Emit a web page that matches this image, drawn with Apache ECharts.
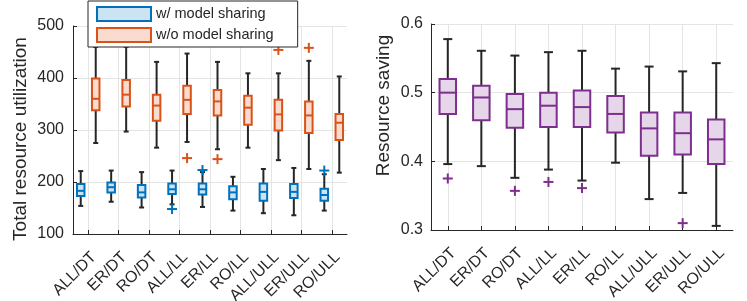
<!DOCTYPE html>
<html>
<head>
<meta charset="utf-8">
<script src="https://cdn.jsdelivr.net/npm/echarts@6/dist/echarts.min.js"></script>
<style>
html,body{margin:0;padding:0;background:#fff;}
#main{width:747px;height:301px;}
</style>
</head>
<body>
<div id="main"></div>
<script>
// ---------- data ----------
var categories = ['ALL/DT','ER/DT','RO/DT','ALL/LL','ER/LL','RO/LL','ALL/ULL','ER/ULL','RO/ULL'];
var utilTicks = [100, 200, 300, 400, 500];
var savingTicks = [0.3, 0.4, 0.5, 0.6];

// [min, q1, median, q3, max]
var withSharing = [
  [154, 173, 183, 196, 221],
  [162, 180, 190, 199, 222],
  [151, 170, 180, 194, 219],
  [157, 177, 186, 197, 222],
  [152, 176, 186, 197, 219],
  [145, 167, 180, 192, 210],
  [140, 164, 181, 197, 225],
  [136, 169, 181, 196, 227],
  [145, 164, 175, 187, 215]
];
var withoutSharing = [
  [275, 338, 360, 399, 460],
  [297, 345, 368, 396, 460],
  [266, 318, 347, 368, 431],
  [277, 331, 358, 385, 447],
  [263, 328, 355, 377, 431],
  [266, 310, 343, 366, 409],
  [242, 299, 330, 358, 409],
  [225, 294, 328, 355, 433],
  [218, 281, 314, 331, 403]
];
var saving = [
  [0.396, 0.469, 0.500, 0.520, 0.578],
  [0.393, 0.460, 0.493, 0.510, 0.561],
  [0.376, 0.449, 0.476, 0.498, 0.554],
  [0.388, 0.450, 0.481, 0.500, 0.559],
  [0.372, 0.450, 0.479, 0.503, 0.561],
  [0.398, 0.442, 0.469, 0.495, 0.535],
  [0.345, 0.408, 0.448, 0.471, 0.538],
  [0.354, 0.410, 0.441, 0.471, 0.531],
  [0.306, 0.396, 0.432, 0.461, 0.543]
];
// outliers: [category index, value]
var withOutliers = [[3, 148], [4, 223], [8, 222]];
var withoutOutliers = [[3, 246], [4, 244], [6, 454], [7, 458]];
var savingOutliers = [[0, 0.375], [2, 0.357], [3, 0.370], [4, 0.361], [7, 0.310]];

// ---------- style ----------
var TXT = '#262626';
var GRIDC = '#e4e4e4';
var FONT = '"Liberation Sans", Arial, Helvetica, sans-serif';
var BLUE = '#0072BD', BLUE_F = '#cce3f3';
var ORANGE = '#D95319', ORANGE_F = '#f9dccf';
var PURPLE = '#7E2F8E', PURPLE_F = '#e6d6e9';

function boxRender(offset, boxW, capW, stroke, fill) {
  return function (params, api) {
    var c = api.value(0);
    var cx = api.coord([c, api.value(3)])[0] + offset;
    function y(k) { return api.coord([c, api.value(k)])[1]; }
    var ymin = y(1), yq1 = y(2), ymed = y(3), yq3 = y(4), ymax = y(5);
    var ws = {stroke: TXT, lineWidth: 2};
    return {
      type: 'group',
      children: [
        {type: 'line', shape: {x1: cx, y1: ymax, x2: cx, y2: yq3}, style: ws},
        {type: 'line', shape: {x1: cx, y1: yq1, x2: cx, y2: ymin}, style: ws},
        {type: 'line', shape: {x1: cx - capW / 2, y1: ymax, x2: cx + capW / 2, y2: ymax}, style: ws},
        {type: 'line', shape: {x1: cx - capW / 2, y1: ymin, x2: cx + capW / 2, y2: ymin}, style: ws},
        {type: 'rect', shape: {x: cx - boxW / 2, y: yq3, width: boxW, height: yq1 - yq3},
          style: {fill: fill, stroke: stroke, lineWidth: 2}},
        {type: 'line', shape: {x1: cx - boxW / 2, y1: ymed, x2: cx + boxW / 2, y2: ymed},
          style: {stroke: stroke, lineWidth: 2}}
      ]
    };
  };
}
function plusRender(offset, size, color) {
  return function (params, api) {
    var p = api.coord([api.value(0), api.value(1)]);
    var cx = p[0] + offset, cy = p[1], h = size / 2;
    var st = {stroke: color, lineWidth: 2};
    return {
      type: 'group',
      children: [
        {type: 'line', shape: {x1: cx - h, y1: cy, x2: cx + h, y2: cy}, style: st},
        {type: 'line', shape: {x1: cx, y1: cy - h, x2: cx, y2: cy + h}, style: st}
      ]
    };
  };
}
function boxData(stats) {
  return stats.map(function (s, i) { return [i].concat(s); });
}
function xAxisCfg(gridIndex) {
  return {
    type: 'category', gridIndex: gridIndex, data: categories, boundaryGap: true,
    axisLine: {show: true, lineStyle: {color: TXT, width: 1}},
    axisTick: {show: true, inside: true, alignWithLabel: true, length: 4, lineStyle: {color: TXT}},
    axisLabel: {rotate: 45, fontSize: 16, color: TXT, fontFamily: FONT, margin: 15, interval: 0,
      align: 'right', verticalAlign: 'top'},
    splitLine: {show: true, alignWithLabel: true, lineStyle: {color: GRIDC, width: 1}}
  };
}

var chart = echarts.init(document.getElementById('main'), null, {renderer: 'canvas'});
chart.setOption({
  animation: false,
  backgroundColor: '#fff',
  textStyle: {fontFamily: FONT},
  grid: [
    {left: 73, right: 400, top: 26, bottom: 67, containLabel: false, outerBoundsMode: 'none'},
    {left: 431, right: 14, top: 24, bottom: 71, containLabel: false, outerBoundsMode: 'none'}
  ],
  legend: {
    orient: 'vertical', left: 88, top: 1,
    padding: [5, 24, 4, 8], itemGap: 5, itemWidth: 54, itemHeight: 14,
    borderColor: TXT, borderWidth: 1, backgroundColor: '#fff',
    textStyle: {fontSize: 14.5, color: TXT, fontFamily: FONT},
    icon: 'rect',
    data: [
      {name: 'w/ model sharing', itemStyle: {color: BLUE_F, borderColor: BLUE, borderWidth: 2}},
      {name: 'w/o model sharing', itemStyle: {color: ORANGE_F, borderColor: ORANGE, borderWidth: 2}}
    ]
  },
  xAxis: [xAxisCfg(0), xAxisCfg(1)],
  yAxis: [
    {
      type: 'value', gridIndex: 0, min: utilTicks[0], max: utilTicks[utilTicks.length - 1], interval: 100,
      name: 'Total resource utilization', nameLocation: 'middle', nameGap: 43,
      nameTextStyle: {fontSize: 19, color: TXT, fontFamily: FONT, padding: [0, 18, 0, 0]},
      axisLine: {show: true, lineStyle: {color: TXT, width: 1}},
      axisTick: {show: true, inside: true, length: 4, lineStyle: {color: TXT}},
      axisLabel: {fontSize: 16, color: TXT, fontFamily: FONT, margin: 9},
      splitLine: {show: true, lineStyle: {color: GRIDC, width: 1}}
    },
    {
      type: 'value', gridIndex: 1, min: savingTicks[0], max: savingTicks[savingTicks.length - 1], interval: 0.1,
      name: 'Resource saving', nameLocation: 'middle', nameGap: 38,
      nameTextStyle: {fontSize: 19, color: TXT, fontFamily: FONT, padding: [0, 0, 0, 43]},
      axisLine: {show: true, lineStyle: {color: TXT, width: 1}},
      axisTick: {show: true, inside: true, length: 4, lineStyle: {color: TXT}},
      axisLabel: {fontSize: 16, color: TXT, fontFamily: FONT, margin: 8,
        formatter: function (v) { return (Math.round(v * 10) / 10).toFixed(1); }},
      splitLine: {show: true, lineStyle: {color: GRIDC, width: 1}}
    }
  ],
  series: [
    {
      name: 'w/ model sharing', type: 'custom', xAxisIndex: 0, yAxisIndex: 0,
      itemStyle: {color: BLUE_F, borderColor: BLUE},
      renderItem: boxRender(-7.5, 7.5, 5, BLUE, BLUE_F),
      encode: {x: 0, y: [1, 2, 3, 4, 5]},
      data: boxData(withSharing), z: 3
    },
    {
      name: 'w/o model sharing', type: 'custom', xAxisIndex: 0, yAxisIndex: 0,
      itemStyle: {color: ORANGE_F, borderColor: ORANGE},
      renderItem: boxRender(7.5, 7.5, 5, ORANGE, ORANGE_F),
      encode: {x: 0, y: [1, 2, 3, 4, 5]},
      data: boxData(withoutSharing), z: 3
    },
    {
      name: 'with-outliers', type: 'custom', xAxisIndex: 0, yAxisIndex: 0,
      renderItem: plusRender(-7.5, 10, BLUE), encode: {x: 0, y: 1},
      data: withOutliers, z: 3
    },
    {
      name: 'without-outliers', type: 'custom', xAxisIndex: 0, yAxisIndex: 0,
      renderItem: plusRender(7.5, 10, ORANGE), encode: {x: 0, y: 1},
      data: withoutOutliers, z: 3
    },
    {
      name: 'saving', type: 'custom', xAxisIndex: 1, yAxisIndex: 1,
      renderItem: boxRender(0, 16.5, 9, PURPLE, PURPLE_F),
      encode: {x: 0, y: [1, 2, 3, 4, 5]},
      data: boxData(saving), z: 3
    },
    {
      name: 'saving-outliers', type: 'custom', xAxisIndex: 1, yAxisIndex: 1,
      renderItem: plusRender(0, 10, PURPLE), encode: {x: 0, y: 1},
      data: savingOutliers, z: 3
    }
  ]
});
</script>
</body>
</html>
